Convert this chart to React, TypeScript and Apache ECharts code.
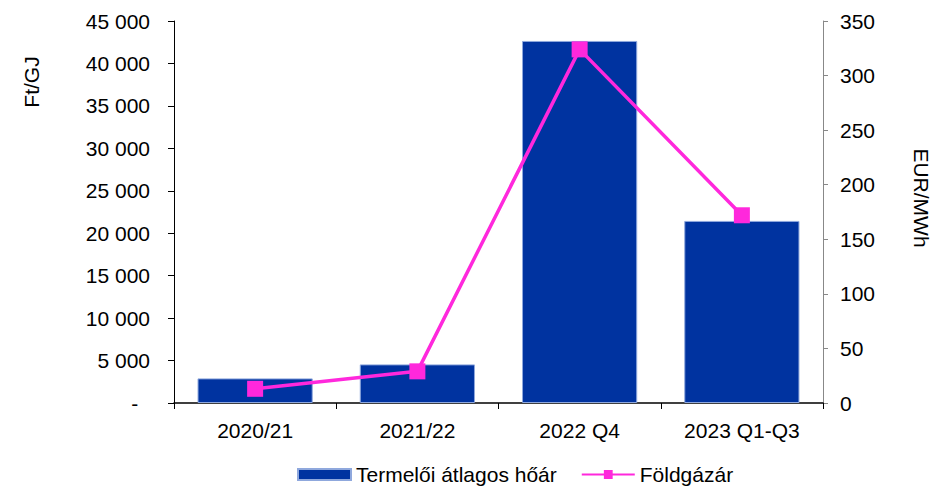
import React, { useEffect, useRef } from "react";
import * as echarts from "echarts";

const categories = ["2020/21", "2021/22", "2022 Q4", "2023 Q1-Q3"];
const heatPrice = [2900, 4550, 42650, 21450];
const gasPrice = [13, 29, 324, 172];
const leftName = "Ft/GJ";
const rightName = "EUR/MWh";
const barName = "Termelői átlagos hőár";
const lineName = "Földgázár";

const FONT = "'Liberation Sans', Arial, sans-serif";
const FS = 21;

function fmtLeft(v: number): string {
  if (v === 0) return "-\u00a0\u00a0";
  return String(v).replace(/\B(?=(\d{3})+(?!\d))/g, " ");
}

export default function App() {
  const ref = useRef<HTMLDivElement>(null);
  useEffect(() => {
    if (!ref.current) return;
    const chart = echarts.init(ref.current, undefined, { renderer: "svg" });
    chart.setOption({
      animation: false,
      backgroundColor: "#ffffff",
      textStyle: { fontFamily: FONT },
      grid: { left: 174, right: 109, top: 21, bottom: 84, containLabel: false },
      legend: {
        left: 292,
        top: 459,
        itemWidth: 53,
        itemHeight: 11,
        itemGap: 24,
        textStyle: { fontSize: FS, color: "#000", fontFamily: FONT },
        data: [
          { name: barName, icon: "rect" },
          { name: lineName },
        ],
      },
      graphic: [
        {
          type: "text",
          x: 31,
          y: 82,
          rotation: Math.PI / 2,
          style: {
            text: leftName,
            fontSize: FS,
            fontFamily: FONT,
            fill: "#000",
            textAlign: "center",
            textVerticalAlign: "middle",
          },
        },
        {
          type: "text",
          x: 921,
          y: 198,
          rotation: -Math.PI / 2,
          style: {
            text: rightName,
            fontSize: FS,
            fontFamily: FONT,
            fill: "#000",
            textAlign: "center",
            textVerticalAlign: "middle",
          },
        },
      ],
      xAxis: {
        type: "category",
        data: categories,
        boundaryGap: true,
        axisLine: { lineStyle: { color: "#000", width: 1.5 } },
        axisTick: { show: true, length: 6, lineStyle: { color: "#000" } },
        axisLabel: { fontSize: FS, color: "#000", margin: 17, fontFamily: FONT },
        splitLine: { show: false },
      },
      yAxis: [
        {
          type: "value",
          min: 0,
          max: 45000,
          interval: 5000,
          position: "left",
          axisLine: { show: true, lineStyle: { color: "#000" } },
          axisTick: { show: true, length: 6, lineStyle: { color: "#000" } },
          axisLabel: { fontSize: FS, color: "#000", margin: 24, formatter: fmtLeft, fontFamily: FONT },
          splitLine: { show: false },
        },
        {
          type: "value",
          min: 0,
          max: 350,
          interval: 50,
          position: "right",
          axisLine: { show: true, lineStyle: { color: "#888" } },
          axisTick: { show: true, length: 5, lineStyle: { color: "#888" } },
          axisLabel: { fontSize: FS, color: "#000", margin: 17, fontFamily: FONT },
          splitLine: { show: false },
        },
      ],
      series: [
        {
          name: barName,
          type: "bar",
          yAxisIndex: 0,
          data: heatPrice,
          barCategoryGap: "29%",
          itemStyle: { color: "#0033A0", borderColor: "#8FA8DD", borderWidth: 1 },
        },
        {
          name: lineName,
          type: "line",
          yAxisIndex: 1,
          data: gasPrice,
          symbol: "rect",
          symbolSize: 16,
          lineStyle: { color: "#FF28DC", width: 3.5 },
          itemStyle: { color: "#FF28DC" },
          z: 5,
        },
      ],
    });
    return () => chart.dispose();
  }, []);
  return (
    <div
      ref={ref}
      style={{ position: "fixed", left: 0, top: 0, width: 932, height: 487 }}
    />
  );
}
